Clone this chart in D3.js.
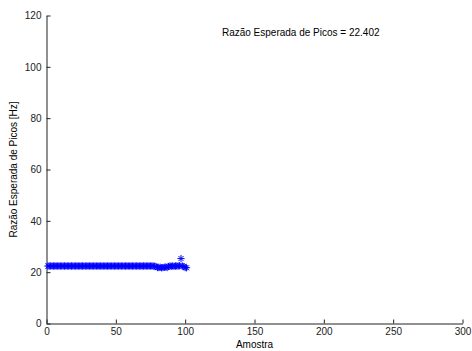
<!DOCTYPE html>
<html><head><meta charset="utf-8">
<script src="https://cdn.jsdelivr.net/npm/d3@7"></script>
<style>body{margin:0;background:#fff}svg{display:block}text{font-family:"Liberation Sans",Arial,sans-serif}</style>
</head><body>
<svg id="c" width="472" height="351"></svg>
<script>
const samples = d3.range(1, 102);
const values = [
22.4,22.4,22.4,22.4,22.4,22.4,22.4,22.4,22.4,22.4,
22.4,22.4,22.4,22.4,22.4,22.4,22.4,22.4,22.4,22.4,
22.4,22.4,22.4,22.4,22.4,22.4,22.4,22.4,22.4,22.4,
22.4,22.4,22.4,22.4,22.4,22.4,22.4,22.4,22.4,22.4,
22.4,22.4,22.4,22.4,22.4,22.4,22.4,22.4,22.4,22.4,
22.4,22.4,22.4,22.4,22.4,22.4,22.4,22.4,22.4,22.4,
22.4,22.4,22.4,22.4,22.4,22.4,22.4,22.4,22.4,22.4,
22.4,22.4,22.4,22.4,22.4,22.4,22.4,22.3,22.2,21.8,
21.8,21.9,21.7,21.8,21.9,22.0,21.8,22.2,22.4,22.3,
22.4,22.3,22.4,22.4,22.4,22.5,25.3,22.4,22.2,21.8,
21.7];
const xTicks = [0, 50, 100, 150, 200, 250, 300];
const yTicks = [0, 20, 40, 60, 80, 100, 120];
const annotation = "Razão Esperada de Picos = 22.402";
const xLabel = "Amostra";
const yLabel = "Razão Esperada de Picos [Hz]";

const svg = d3.select("#c");
const x = d3.scaleLinear().domain([0, 300]).range([46.5, 462.5]);
const y = d3.scaleLinear().domain([0, 120]).range([323.5, 15.5]);

const xAxis = svg.append("g").attr("transform", `translate(0,${y(0)})`)
  .call(d3.axisBottom(x).tickValues(xTicks).tickSizeInner(-4).tickSizeOuter(0).tickPadding(4.5));
const yAxis = svg.append("g").attr("transform", `translate(${x(0)},0)`)
  .call(d3.axisLeft(y).tickValues(yTicks).tickSizeInner(-4).tickSizeOuter(0).tickPadding(5));
[xAxis, yAxis].forEach(a => {
  a.selectAll("path,line").attr("stroke", "#222");
  a.selectAll("text").attr("font-size", 10).attr("fill", "#222").style("font-family", '"Liberation Sans",Arial,sans-serif');
});

const data = samples.map((s, i) => [s, values[i]]);
const r = 3.6;
svg.append("g").selectAll("path").data(data).join("path")
  .attr("transform", d => `translate(${x(d[0])},${y(d[1])})`)
  .attr("d", `M${-r},0H${r}M0,${-r}V${r}M${-r*0.7},${-r*0.7}L${r*0.7},${r*0.7}M${-r*0.7},${r*0.7}L${r*0.7},${-r*0.7}`)
  .attr("stroke", "#0000ff").attr("stroke-width", 1).attr("fill", "none");

svg.append("text").attr("x", x(126.5)).attr("y", y(112)).attr("font-size", 10).attr("fill", "#000").text(annotation);
svg.append("text").attr("x", x(150)).attr("y", 348).attr("text-anchor", "middle").attr("font-size", 10).attr("fill", "#000").text(xLabel);
svg.append("text").attr("transform", `translate(17,${y(60)}) rotate(-90)`).attr("text-anchor", "middle").attr("font-size", 10).attr("fill", "#000").text(yLabel);
</script>
</body></html>
